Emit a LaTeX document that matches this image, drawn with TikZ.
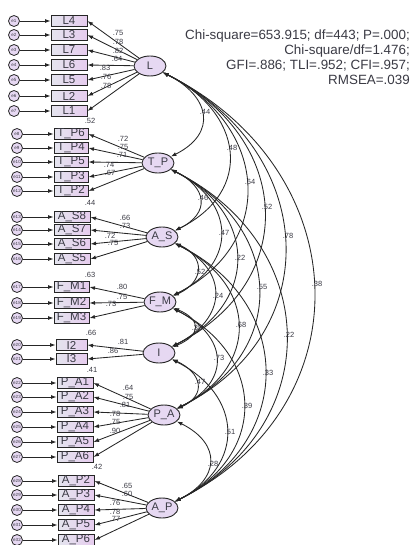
\documentclass[tikz,border=0pt]{standalone}
\usepackage{fontspec}
\setmainfont{Liberation Sans}
\usetikzlibrary{arrows.meta,shapes.geometric}
\definecolor{ln}{HTML}{262626}
\definecolor{txt}{HTML}{3A3A44}
\definecolor{boxL}{HTML}{E4E4EE}
\definecolor{boxR}{HTML}{E6CCEE}
\definecolor{ellf}{HTML}{E6D8F2}
\tikzset{
 obs/.style={rectangle, draw=ln, line width=1pt, left color=boxL, right color=boxR, minimum height=11pt, inner sep=0pt, text=txt, font=\fontsize{11.5}{11.5}\selectfont},
 lat/.style={ellipse, draw=ln, line width=0.9pt, fill=ellf, minimum width=32pt, minimum height=20pt, inner sep=0pt, text=txt, font=\fontsize{11}{11}\selectfont},
 err/.style={circle, draw=ln, line width=0.8pt, fill=ellf, minimum size=11pt, inner sep=0pt, text=txt, font=\fontsize{4.5}{4.5}\selectfont},
 arr/.style={draw=ln, line width=0.85pt, -{Latex[length=5.5pt,width=4pt]}},
 cov/.style={draw=ln, line width=0.85pt, {Latex[length=5.5pt,width=4pt]}-{Latex[length=5.5pt,width=4pt]}},
 lbl/.style={text=txt, inner sep=0pt, font=\fontsize{7.5}{7.5}\selectfont},
 fitbox/.style={text=txt, inner sep=0pt, align=right, font=\fontsize{13.4}{14.7}\selectfont}
}
\newcommand\indic[7]{%
 \node[err] (e#5) at (#6,#4) {e#5};
 \node[obs, minimum width=#7pt] (#1) at (#3,#4) {#2};
 \draw[arr] (e#5) -- (#1);
}
\newcommand\cv[4]{\draw[cov] (#1) .. controls +(#3,#4) and +(#3,-#4) .. (#2);}
\begin{document}
\begin{tikzpicture}[x=1pt,y=-1pt]
\useasboundingbox (0,0) rectangle (413,545);
% latent factors
\node[lat] (L) at (150,66) {L};
\node[lat] (TP) at (158,163) {T\_P};
\node[lat] (AS) at (162,237) {A\_S};
\node[lat] (FM) at (160,302) {F\_M};
\node[lat] (I) at (159,353) {I};
\node[lat] (PA) at (164,415) {P\_A};
\node[lat] (AP) at (162,508) {A\_P};
% indicators
\indic{bL4}{L4}{69}{21}{1}{14}{36}
\indic{bL3}{L3}{69}{35}{2}{14}{36}
\indic{bL7}{L7}{69}{50}{3}{14}{36}
\indic{bL6}{L6}{69}{65}{4}{14}{36}
\indic{bL5}{L5}{69}{80}{5}{14}{36}
\indic{bL2}{L2}{69}{96}{6}{14}{36}
\indic{bL1}{L1}{69}{111}{7}{14}{36}
\indic{bTP6}{T\_P6}{71}{134}{8}{17}{34}
\indic{bTP4}{T\_P4}{71}{148}{9}{17}{34}
\indic{bTP5}{T\_P5}{71}{162}{10}{17}{34}
\indic{bTP3}{T\_P3}{71}{177}{11}{17}{34}
\indic{bTP2}{T\_P2}{71}{191}{12}{17}{34}
\indic{bAS8}{A\_S8}{72}{217}{13}{17}{36}
\indic{bAS7}{A\_S7}{72}{230}{14}{17}{36}
\indic{bAS6}{A\_S6}{72}{244}{15}{17}{36}
\indic{bAS5}{A\_S5}{72}{259}{16}{17}{36}
\indic{bFM1}{F\_M1}{71.5}{287}{17}{17}{35}
\indic{bFM2}{F\_M2}{71.5}{303}{18}{17}{35}
\indic{bFM3}{F\_M3}{71.5}{318}{19}{17}{35}
\indic{bI2}{I2}{71.5}{345}{20}{17}{31}
\indic{bI3}{I3}{71.5}{359}{21}{17}{31}
\indic{bPA1}{P\_A1}{75}{383}{22}{17}{36}
\indic{bPA2}{P\_A2}{75}{397}{23}{17}{36}
\indic{bPA3}{P\_A3}{75}{412}{24}{17}{36}
\indic{bPA4}{P\_A4}{75}{427}{25}{17}{36}
\indic{bPA5}{P\_A5}{75}{442}{26}{17}{36}
\indic{bPA6}{P\_A6}{75}{457}{27}{17}{36}
\indic{bAP2}{A\_P2}{76}{481}{28}{17}{36}
\indic{bAP3}{A\_P3}{76}{495}{29}{17}{36}
\indic{bAP4}{A\_P4}{76}{510}{30}{17}{36}
\indic{bAP5}{A\_P5}{76}{525}{31}{17}{36}
\indic{bAP6}{A\_P6}{76}{540}{32}{17}{36}
% loadings
\foreach \b in {bL4,bL3,bL7,bL6,bL5,bL2,bL1} \draw[arr] (L) -- (\b.east);
\foreach \b in {bTP6,bTP4,bTP5,bTP3,bTP2} \draw[arr] (TP) -- (\b.east);
\foreach \b in {bAS8,bAS7,bAS6,bAS5} \draw[arr] (AS) -- (\b.east);
\foreach \b in {bFM1,bFM2,bFM3} \draw[arr] (FM) -- (\b.east);
\foreach \b in {bI2,bI3} \draw[arr] (I) -- (\b.east);
\foreach \b in {bPA1,bPA2,bPA3,bPA4,bPA5,bPA6} \draw[arr] (PA) -- (\b.east);
\foreach \b in {bAP2,bAP3,bAP4,bAP5,bAP6} \draw[arr] (AP) -- (\b.east);
% loading labels
\foreach \t/\x/\y in {.75/118/33,.78/118/42,.82/118/51,.64/117/59,.83/105/68,.76/106/77,.78/106/86,
 .72/123/139,.75/123/147,.71/122/155,.74/109/165,.67/110/173,
 .66/125/218,.73/125/226,.72/110/236,.75/113/243,
 .80/122/287,.75/122/297,.73/111/304,
 .81/123/342,.86/113/351,
 .64/128/388,.75/128/397,.81/125/405,.78/115/414,.75/115/422,.90/115/431,
 .65/127/486,.60/127/494,.76/115/503,.78/115/512,.77/115/519}
 \node[lbl] at (\x,\y) {\t};
% R-square labels
\foreach \t/\x/\y in {.52/90/121,.44/90/203,.63/90/275,.66/91/333,.41/92/370,.42/97/467}
 \node[lbl] at (\x,\y) {\t};
% covariances
\cv{L}{TP}{60}{30}
\cv{L}{AS}{93}{46}
\cv{L}{FM}{118}{59}
\cv{L}{I}{142}{71}
\cv{L}{PA}{166}{83}
\cv{L}{AP}{206}{103}
\cv{TP}{AS}{49}{24}
\cv{TP}{FM}{78}{39}
\cv{TP}{I}{100}{50}
\cv{TP}{PA}{126}{63}
\cv{TP}{AP}{164}{82}
\cv{AS}{FM}{44}{20}
\cv{AS}{I}{68}{34}
\cv{AS}{PA}{96}{48}
\cv{AS}{AP}{133}{66}
\cv{FM}{I}{42}{18}
\cv{FM}{PA}{68}{34}
\cv{FM}{AP}{106}{53}
\cv{I}{PA}{43}{20}
\cv{I}{AP}{84}{42}
\cv{PA}{AP}{58}{29}
\foreach \t/\x/\y in {.44/205/112,.48/232/148,.64/250/182,.52/267/207,.78/288/236,.38/317/284,
 .46/203/198,.47/224/233,.22/240/258,.55/262/287,.22/289/335,
 .52/200/272,.24/218/296,.68/241/325,.33/268/373,
 .35/197/328,.73/219/358,.39/247/406,
 .47/200/382,.51/230/432,.28/213/464}
 \node[lbl] at (\x,\y) {\t};
% fit indices
\node[fitbox, anchor=north east] (fit) at (410,30) {Chi-square=653.915; df=443; P=.000;\\Chi-square/df=1.476;\\GFI=.886; TLI=.952; CFI=.957;\\RMSEA=.039};
\end{tikzpicture}
\end{document}
